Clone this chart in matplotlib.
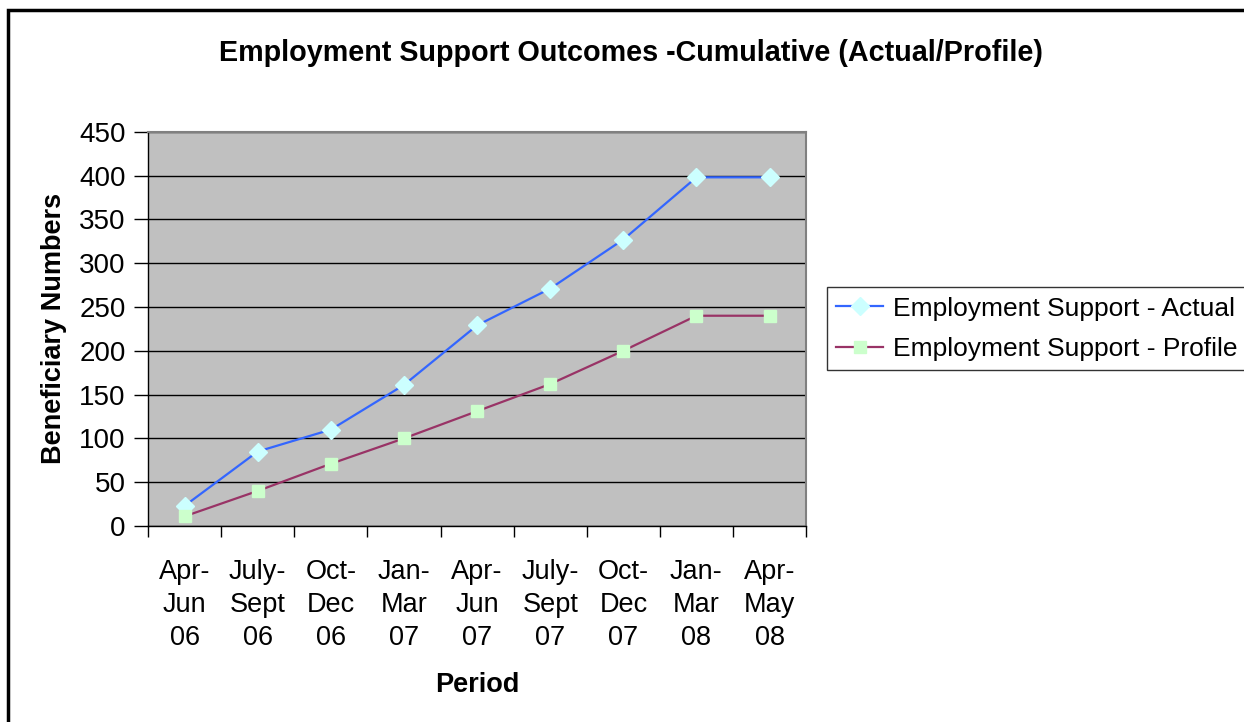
import matplotlib
matplotlib.use("Agg")
from matplotlib import pyplot as plt
from matplotlib.patches import Rectangle
import numpy as np

plt.rcParams['font.family'] = ['Liberation Sans', 'DejaVu Sans']

periods = ["Apr-\nJun\n06", "July-\nSept\n06", "Oct-\nDec\n06", "Jan-\nMar\n07",
           "Apr-\nJun\n07", "July-\nSept\n07", "Oct-\nDec\n07", "Jan-\nMar\n08",
           "Apr-\nMay\n08"]
actual = [23, 85, 110, 161, 229, 271, 327, 398, 398]
profile = [11, 40, 71, 100, 131, 162, 200, 240, 240]

fig = plt.figure(figsize=(12.44, 7.22), dpi=100)
ax = fig.add_axes([0.119, 0.2715, 0.529, 0.546])
ax.set_facecolor('#c0c0c0')

x = np.arange(len(periods)) + 0.5
ax.plot(x, actual, color='#3366ff', lw=1.6, marker='D', ms=9,
        mfc='#ccffff', mec='#ccffff', label='Employment Support - Actual', zorder=3)
ax.plot(x, profile, color='#993366', lw=1.6, marker='s', ms=8.5,
        mfc='#ccffcc', mec='#ccffcc', label='Employment Support - Profile', zorder=3)

ax.set_xlim(0, len(periods))
ax.set_ylim(0, 450)
ax.set_yticks(range(0, 451, 50))
ax.yaxis.grid(True, color='black', lw=1)
ax.set_axisbelow(True)

ax.set_xticks(range(len(periods) + 1))
ax.set_xticklabels([])
ax.set_xticks(x, minor=True)
ax.set_xticklabels(periods, minor=True, fontsize=19.5, linespacing=1.35)
ax.tick_params(axis='x', which='minor', length=0, pad=24)
ax.tick_params(axis='x', which='major', length=8, width=1, direction='out')
ax.tick_params(axis='y', length=10, width=1, labelsize=20, pad=6)

for s in ['top', 'right']:
    ax.spines[s].set_color('#808080')
    ax.spines[s].set_linewidth(1.5)
for s in ['left', 'bottom']:
    ax.spines[s].set_color('black')
    ax.spines[s].set_linewidth(1)

ax.set_xlabel('Period', fontsize=19.5, fontweight='bold', labelpad=15)
ax.set_ylabel('Beneficiary Numbers', fontsize=19.5, fontweight='bold', labelpad=9)

fig.text(0.507, 0.927, 'Employment Support Outcomes -Cumulative (Actual/Profile)',
         ha='center', va='center', fontsize=20.7, fontweight='bold')

leg = ax.legend(loc='center left', bbox_to_anchor=(1.011, 0.5), fontsize=19,
                frameon=True, fancybox=False, edgecolor='black', handlelength=1.8,
                handletextpad=0.35, borderpad=0.35, labelspacing=0.62)
leg.get_frame().set_linewidth(1)

fig.patches.append(Rectangle((8 / 1244, -0.01), 1.2, 1 - 10 / 722 + 0.01,
                             transform=fig.transFigure, fill=False,
                             edgecolor='black', lw=2.5))

fig.savefig('out.png', dpi=100)
